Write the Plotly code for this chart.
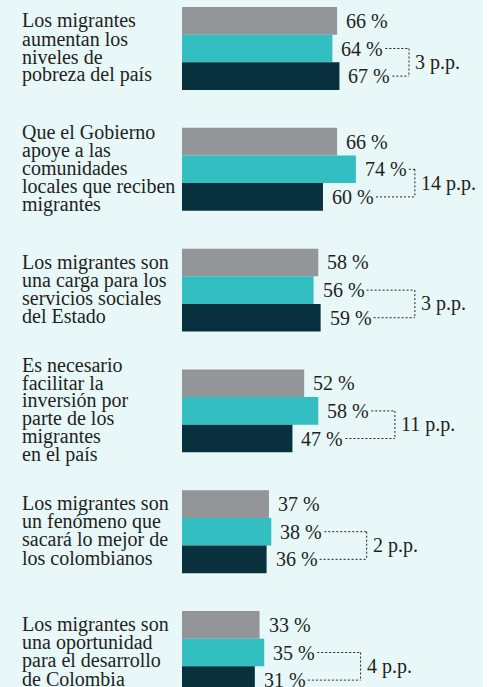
import plotly.graph_objects as go

# DATA
statements = [
    ["Los migrantes", "aumentan los", "niveles de", "pobreza del país"],
    ["Que el Gobierno", "apoye a las", "comunidades", "locales que reciben", "migrantes"],
    ["Los migrantes son", "una carga para los", "servicios sociales", "del Estado"],
    ["Es necesario", "facilitar la", "inversión por", "parte de los", "migrantes", "en el país"],
    ["Los migrantes son", "un fenómeno que", "sacará lo mejor de", "los colombianos"],
    ["Los migrantes son", "una oportunidad", "para el desarrollo", "de Colombia"],
]
gray_vals = [66, 66, 58, 52, 37, 33]
teal_vals = [64, 74, 56, 58, 38, 35]
dark_vals = [67, 60, 59, 47, 36, 31]

# STYLE
GRAY = "#939598"
TEAL = "#33bec2"
DARK = "#09303d"
BG = "#e8f7f8"
TXT = "#231f20"
FONT = "Liberation Serif, Times New Roman, serif"
W, H = 489, 687
ML, MR = 182, 6
XMAX = 128.1
PPU = (W - ML - MR) / XMAX       # pixels per percent
BARGAP = 0.314
BW = (1 - BARGAP) / 3            # width of one bar in category units
LINE_PX = 18                     # leading of the statement text
# where the vertical bracket line sits, in percent units (hand placed in original)
bracket_x = [96.6, 99.1, 99.1, 90.6, 78.6, 76.0]

cats = [" ".join(s) for s in statements]

fig = go.Figure()
for vals, col in [(gray_vals, GRAY), (teal_vals, TEAL), (dark_vals, DARK)]:
    fig.add_trace(go.Bar(
        x=vals, y=cats, orientation="h",
        marker=dict(color=col, line=dict(width=0)),
        hoverinfo="x",
    ))

ann = []
shapes = []
for i, lines in enumerate(statements):
    n = len(lines)
    # statement text, one annotation per line to get tight leading
    for k, ln in enumerate(lines):
        ann.append(dict(
            x=0, xref="x", xshift=-162, xanchor="left",
            y=i, yref="y", yshift=((n - 1) / 2 - k) * LINE_PX + 1, yanchor="middle",
            text=ln, showarrow=False,
            font=dict(family=FONT, size=20, color=TXT),
        ))
    # value labels
    for j, v in enumerate([gray_vals[i], teal_vals[i], dark_vals[i]]):
        ann.append(dict(
            x=v, xref="x", xshift=7, xanchor="left",
            y=i + (j - 1) * BW, yref="y", yanchor="middle",
            text=f"{v} %", showarrow=False,
            font=dict(family=FONT, size=20, color=TXT),
        ))
    # bracket between teal and dark
    t, d = teal_vals[i], dark_vals[i]
    vx = bracket_x[i]
    line = dict(color=TXT, width=1, dash="2px,2px")
    for v, yy in [(t, i), (d, i + BW)]:
        shapes.append(dict(type="line", xref="x", yref="y",
                           x0=v + 53 / PPU, x1=vx, y0=yy, y1=yy, line=line))
    shapes.append(dict(type="line", xref="x", yref="y",
                       x0=vx, x1=vx, y0=i, y1=i + BW, line=line))
    ann.append(dict(
        x=vx, xref="x", xshift=4, xanchor="left",
        y=i + BW / 2, yref="y", yanchor="middle",
        text=f"{abs(t - d)} p.p.", showarrow=False,
        font=dict(family=FONT, size=20, color=TXT),
    ))

# white strip on the right edge
shapes.append(dict(type="rect", xref="paper", yref="paper",
                   x0=1, x1=1 + MR / (W - ML - MR), y0=0, y1=1,
                   fillcolor="white", line=dict(width=0), layer="above"))

top_px = 48.5
y_top = -top_px / 120.8
y_bot = (H - top_px) / 120.8

fig.update_layout(
    width=W, height=H,
    margin=dict(l=ML, r=MR, t=0, b=0, pad=0),
    barmode="group", bargap=BARGAP, bargroupgap=0,
    paper_bgcolor=BG, plot_bgcolor=BG,
    showlegend=False,
    annotations=ann, shapes=shapes,
    xaxis=dict(range=[0, XMAX], visible=False, fixedrange=True),
    yaxis=dict(type="category", categoryorder="array", categoryarray=cats,
               range=[y_bot, y_top], visible=False, fixedrange=True),
    font=dict(family=FONT, color=TXT),
)

# page body has an 8px default margin, drop it
fig.write_html("out.html", config={"displayModeBar": False},
               post_script="document.body.style.margin='0';")
